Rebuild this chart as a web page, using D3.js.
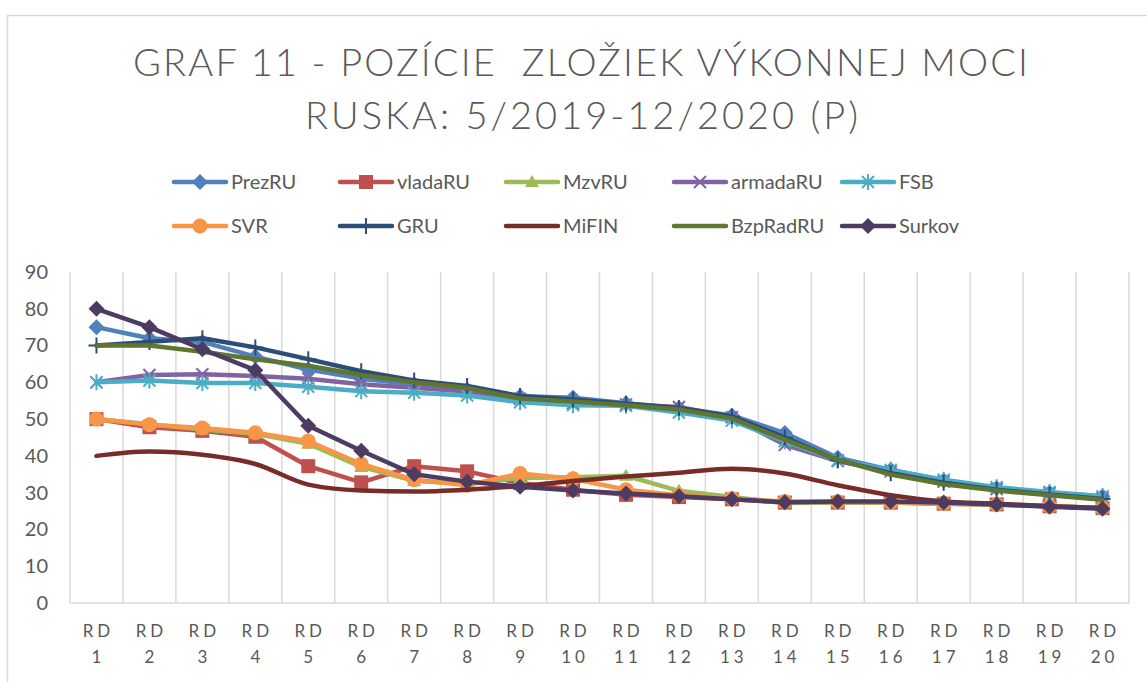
<!DOCTYPE html>
<html>
<head>
<meta charset="utf-8">
<script src="https://cdn.jsdelivr.net/npm/d3@7"></script>
<style>
  body { margin: 0; background: #fff; }
  svg { display: block; font-family: Lato, "Open Sans", sans-serif; }
</style>
</head>
<body>
<div id="chart"></div>
<script>
// categories (rounds)
const rounds = d3.range(1, 21).map(n => 'RD ' + n);

// series values
const prezRU   = [75, 72, 71, 67, 63.5, 61, 59.5, 58, 56.2, 55.8, 54.3, 53, 51, 46.2, 39.5, 36.2, 33.3, 31.3, 30, 29];
const vladaRU  = [50, 47.8, 46.8, 45.2, 37.2, 32.8, 37.2, 35.8, 32.6, 30.8, 29.4, 28.8, 28.2, 27.3, 27.3, 27.3, 27, 26.8, 26.3, 25.8];
const mzvRU    = [50, 48.6, 47.2, 46, 43.3, 37, 33.2, 32.4, 34, 34.2, 34.6, 30.5, 28.8, 27.2, 27.3, 27.3, 27, 26.8, 26.3, 25.8];
const armadaRU = [60, 62, 62.2, 61.7, 61, 59.5, 58.5, 57.5, 55.5, 54.3, 54, 53.3, 50.5, 43, 38.6, 35.8, 33, 31, 29.8, 28.5];
const fsb      = [60, 60.5, 59.8, 59.8, 58.8, 57.6, 57.2, 56.4, 54.6, 53.8, 53.6, 51.8, 49.6, 44, 38.8, 36.2, 33.5, 31.5, 30.2, 29];
const svr      = [50, 48.5, 47.6, 46.3, 44, 37.8, 33.5, 32, 35.2, 33.8, 30.8, 29.3, 28.4, 27.6, 27.5, 27.4, 27.1, 26.8, 26.3, 25.8];
const gru      = [70, 71, 72, 69.5, 66.3, 63, 60.5, 59, 56.3, 55.3, 54.2, 53, 50.7, 45, 38.8, 35.3, 32.7, 30.8, 29.5, 28.3];
const miFIN    = [40, 41.2, 40.3, 37.8, 32.2, 30.6, 30.3, 30.8, 31.8, 33.2, 34.4, 35.4, 36.5, 35.2, 32, 29.3, 27.6, 27, 26.3, 25.8];
const bzpRadRU = [70, 70, 68.3, 66.3, 64.5, 62, 60, 58.5, 55.6, 54.8, 53.8, 52.6, 50.2, 44.4, 39, 34.9, 32.3, 30.6, 29.3, 28.1];
const surkov   = [80, 75, 69, 63.3, 48.2, 41.4, 35, 33, 31.6, 30.6, 29.8, 29, 28.2, 27.4, 27.6, 27.6, 27.3, 26.8, 26.2, 25.6];

const seriesNames = ['PrezRU', 'vladaRU', 'MzvRU', 'armadaRU', 'FSB', 'SVR', 'GRU', 'MiFIN', 'BzpRadRU', 'Surkov'];
const seriesValues = [prezRU, vladaRU, mzvRU, armadaRU, fsb, svr, gru, miFIN, bzpRadRU, surkov];
const yTicks = [0, 10, 20, 30, 40, 50, 60, 70, 80, 90];

const colors = ['#4F81BD', '#C0504D', '#9BBB59', '#8064A2', '#4BACC6', '#F79646', '#2C4D75', '#772C2A', '#5F7530', '#4D3B62'];
const markers = ['diamond', 'square', 'triangle', 'x', 'star', 'circle', 'plus', 'none', 'none', 'diamond'];

const width = 1147, height = 682;
const margin = { top: 272, right: 18, bottom: 79, left: 70 };
const textColor = '#595959';
const gridColor = '#D9D9D9';

const svg = d3.select('#chart').append('svg')
  .attr('width', width)
  .attr('height', height);

// chart border
svg.append('rect')
  .attr('x', 7.5).attr('y', 15.5)
  .attr('width', width + 20).attr('height', height + 20)
  .attr('fill', 'none')
  .attr('stroke', gridColor)
  .attr('stroke-width', 1.5);

// title
const title = svg.append('g')
  .attr('fill', textColor)
  .attr('font-size', 38)
  .attr('font-weight', 300)
  .attr('text-anchor', 'middle');
title.append('text').attr('x', 580.5).attr('y', 76)
  .attr('textLength', 895).attr('lengthAdjust', 'spacing')
  .text('GRAF 11 - POZÍCIE\u00A0 ZLOŽIEK VÝKONNEJ MOCI');
title.append('text').attr('x', 581.5).attr('y', 129)
  .attr('textLength', 553).attr('lengthAdjust', 'spacing')
  .text('RUSKA: 5/2019-12/2020 (P)');

// scales
const x = d3.scaleBand()
  .domain(rounds)
  .range([margin.left, width - margin.right]);
const y = d3.scaleLinear()
  .domain([0, 90])
  .range([height - margin.bottom, margin.top]);

const cx = d => x(d) + x.bandwidth() / 2;

// vertical gridlines at category boundaries
const bounds = rounds.map(r => x(r)).concat([x.range()[1]]);
svg.append('g').selectAll('line')
  .data(bounds)
  .enter().append('line')
  .attr('x1', d => d).attr('x2', d => d)
  .attr('y1', y(90)).attr('y2', y(0))
  .attr('stroke', gridColor)
  .attr('stroke-width', 1.5);

// x axis line
svg.append('line')
  .attr('x1', x.range()[0]).attr('x2', x.range()[1])
  .attr('y1', y(0)).attr('y2', y(0))
  .attr('stroke', gridColor)
  .attr('stroke-width', 1.5);

// y axis labels
const yAxis = svg.append('g')
  .attr('transform', `translate(${margin.left},0)`)
  .call(d3.axisLeft(y).tickValues(yTicks).tickSize(0).tickPadding(22));
yAxis.select('.domain').remove();
yAxis.selectAll('text')
  .attr('fill', textColor)
  .attr('font-size', 20)
  .attr('font-family', 'Lato, "Open Sans", sans-serif');

// x axis labels, two lines each
const xLabels = svg.append('g')
  .attr('fill', textColor)
  .attr('font-size', 17)
  .attr('text-anchor', 'middle')
  .attr('letter-spacing', 4);
rounds.forEach(r => {
  const parts = r.split(' ');
  xLabels.append('text').attr('x', cx(r) + 2).attr('y', 637).text(parts[0]);
  xLabels.append('text').attr('x', cx(r) + 2).attr('y', 663).text(parts[1]);
});

// marker drawing
function drawMarker(g, type, color) {
  if (type === 'diamond') {
    g.append('path').attr('d', 'M0,-8L8,0L0,8L-8,0Z').attr('fill', color);
  } else if (type === 'square') {
    g.append('rect').attr('x', -7).attr('y', -7).attr('width', 14).attr('height', 14).attr('fill', color);
  } else if (type === 'triangle') {
    g.append('path').attr('d', 'M0,-7L7,5L-7,5Z').attr('fill', color);
  } else if (type === 'circle') {
    g.append('circle').attr('r', 7.5).attr('fill', color);
  } else if (type === 'x') {
    g.append('path').attr('d', 'M-6,-6L6,6M-6,6L6,-6')
      .attr('stroke', color).attr('stroke-width', 2).attr('fill', 'none');
  } else if (type === 'star') {
    g.append('path').attr('d', 'M-6,-6L6,6M-6,6L6,-6M0,-8L0,8')
      .attr('stroke', color).attr('stroke-width', 2).attr('fill', 'none');
  } else if (type === 'plus') {
    g.append('path').attr('d', 'M0,-8L0,8M-8,0L8,0')
      .attr('stroke', color).attr('stroke-width', 2).attr('fill', 'none');
  }
}

// lines
const line = d3.line()
  .x((d, i) => cx(rounds[i]))
  .y(d => y(d));

seriesValues.forEach((vals, s) => {
  const g = svg.append('g');
  g.append('path')
    .datum(vals)
    .attr('d', line.curve(s === 7 ? d3.curveMonotoneX : d3.curveLinear))
    .attr('fill', 'none')
    .attr('stroke', colors[s])
    .attr('stroke-width', 4.5)
    .attr('stroke-linejoin', 'round')
    .attr('stroke-linecap', 'round');
  if (markers[s] !== 'none') {
    vals.forEach((v, i) => {
      const m = g.append('g').attr('transform', `translate(${cx(rounds[i])},${y(v)})`);
      drawMarker(m, markers[s], colors[s]);
    });
  }
});

// legend
const legendX = [200, 366, 532, 700, 868];
const legendY = [182, 226];
const legend = svg.append('g');
seriesNames.forEach((name, s) => {
  const lx = legendX[s % 5], ly = legendY[Math.floor(s / 5)];
  const item = legend.append('g');
  item.append('line')
    .attr('x1', lx - 26).attr('x2', lx + 26)
    .attr('y1', ly).attr('y2', ly)
    .attr('stroke', colors[s]).attr('stroke-width', 4.5)
    .attr('stroke-linecap', 'round');
  const m = item.append('g').attr('transform', `translate(${lx},${ly})`);
  drawMarker(m, markers[s], colors[s]);
  item.append('text')
    .attr('x', lx + 31).attr('y', ly + 7)
    .attr('fill', textColor)
    .attr('font-size', 20)
    .text(name);
});
</script>
</body>
</html>
